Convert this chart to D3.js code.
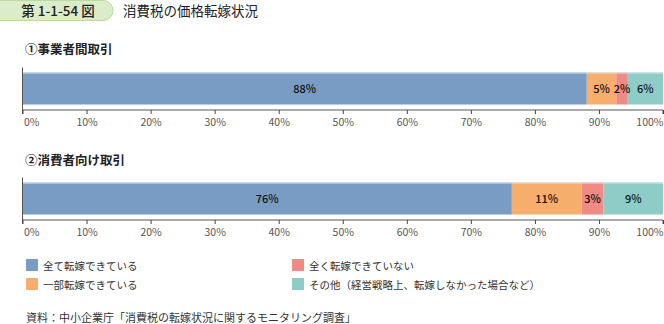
<!DOCTYPE html>
<html><head><meta charset="utf-8">
<script src="https://cdn.jsdelivr.net/npm/d3@7"></script>
<style>
html,body{margin:0;padding:0;background:#fff;}
svg{display:block;font-family:"Noto Sans CJK JP","Noto Sans",sans-serif;}
</style></head>
<body>
<svg id="c" width="664" height="324"></svg>
<script>
const seriesNames = ["全て転嫁できている","一部転嫁できている","全く転嫁できていない","その他（経営戦略上、転嫁しなかった場合など）"];
const seriesColors = ["#789cc4","#f6ae6d","#f08a85","#8ecdc7"];
const panelTitles = ["①事業者間取引","②消費者向け取引"];
const b2bValues = [88.1, 4.6, 1.8, 5.5];
const b2cValues = [76.4, 10.9, 3.4, 9.3];
const tickValues = [0,10,20,30,40,50,60,70,80,90,100];
const titleBadge = "第 1-1-54 図";
const titleText = "消費税の価格転嫁状況";
const sourceText = "資料：中小企業庁「消費税の転嫁状況に関するモニタリング調査」";

const svg = d3.select("#c");
const x = d3.scaleLinear().domain([0,100]).range([22.5,663]);

// Title badge
svg.append("rect").attr("x",-20).attr("y",0.5).attr("width",133).attr("height",20)
  .attr("rx",10).attr("fill","#dcebc9").attr("stroke","#bcd9a0").attr("stroke-width",1);
svg.append("text").attr("x",58).attr("y",15.5).attr("text-anchor","middle")
  .attr("font-size",13.5).attr("font-weight",500).attr("fill","#222").text(titleBadge);
svg.append("text").attr("x",123).attr("y",16)
  .attr("font-size",13.5).attr("fill","#222").text(titleText);

const panels = [
  {title: panelTitles[0], values: b2bValues, titleY: 54, barTop: 72.5, barH: 32, axisY: 110},
  {title: panelTitles[1], values: b2cValues, titleY: 165, barTop: 182.5, barH: 32, axisY: 220}
];

panels.forEach(p => {
  svg.append("text").attr("x",25).attr("y",p.titleY).attr("font-size",12.5)
    .attr("font-weight","bold").attr("fill","#222").text(p.title);
  let cum = 0;
  const segs = p.values.map((v,i) => { const s = {v, i, x0: cum, x1: cum+v}; cum += v; return s; });
  const g = svg.append("g");
  g.selectAll("rect").data(segs).enter().append("rect")
    .attr("x", d => x(d.x0)).attr("width", d => x(d.x1)-x(d.x0))
    .attr("y", p.barTop).attr("height", p.barH)
    .attr("fill", d => seriesColors[d.i]);
  g.append("line").attr("x1",x(0)).attr("x2",x(100)).attr("y1",p.barTop+0.5).attr("y2",p.barTop+0.5)
    .attr("stroke","#d7e3ee").attr("stroke-width",1);
  g.selectAll("text.lbl").data(segs).enter().append("text").attr("class","lbl")
    .attr("x", d => (x(d.x0)+x(d.x1))/2).attr("y", p.barTop + p.barH/2 + 4)
    .attr("text-anchor","middle").attr("font-size",11).attr("font-weight",500).attr("fill","#111")
    .text(d => Math.round(d.v) + "%");
  svg.append("line").attr("x1",x(0)).attr("x2",x(0)).attr("y1",p.barTop-5).attr("y2",p.axisY)
    .attr("stroke","#555").attr("stroke-width",1);
  const axis = d3.axisBottom(x).tickValues(tickValues).tickSize(4).tickFormat(d => d + "%");
  const ag = svg.append("g").attr("transform",`translate(0,${p.axisY})`).call(axis);
  ag.select(".domain").attr("stroke","#555").attr("d", `M${x(0)},4V0H${x(100)}V4`);
  ag.selectAll(".tick line").attr("stroke","#444");
  ag.selectAll(".tick text").attr("font-size",10.5).attr("fill","#555")
    .attr("font-family","'Noto Sans CJK JP','Noto Sans',sans-serif").attr("dy","0.9em")
    .attr("text-anchor", d => d===0 ? "start" : d===100 ? "end" : "middle")
    .attr("x", d => d===0 ? 1 : 0);
});

// Legend
const legendPos = [[26,259],[26,278],[292,259],[292,278]];
const lg = svg.append("g");
seriesNames.forEach((n,i) => {
  const [lx,ly] = legendPos[i];
  lg.append("rect").attr("x",lx).attr("y",ly).attr("width",12).attr("height",12)
    .attr("fill",seriesColors[i]);
  lg.append("text").attr("x",lx+17).attr("y",ly+10.5).attr("font-size",10.5)
    .attr("fill","#333").text(n);
});

svg.append("text").attr("x",26).attr("y",322).attr("font-size",11)
  .attr("fill","#333").text(sourceText);
</script>
</body></html>
